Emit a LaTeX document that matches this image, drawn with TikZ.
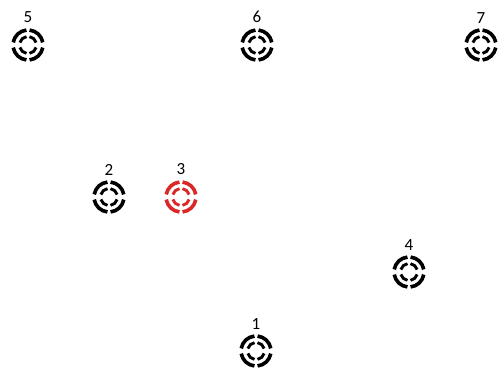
\documentclass[tikz,border=0pt]{standalone}
\usepackage{fontspec}
\setmainfont{Carlito}
\usetikzlibrary{positioning}
\definecolor{hitred}{RGB}{218,40,40}

\begin{document}
\begin{tikzpicture}[
    x=1pt, y=-1pt,
    target/.style={circle, minimum size=36pt, inner sep=0pt,
        path picture={
            \foreach \a/\s/\e in {0/10/84, 90/6/80, 180/10/84, 270/6/80} {
                \draw[#1, line width=3.6pt] ([shift={(\a+\s:15pt)}]path picture bounding box.center)
                    arc[start angle=\a+\s, end angle=\a+\e, radius=15pt];
            }
            \foreach \a/\s/\e in {0/17/80, 90/10/73, 180/17/80, 270/10/73} {
                \draw[#1, line width=2.9pt] ([shift={(\a+\s:8.5pt)}]path picture bounding box.center)
                    arc[start angle=\a+\s, end angle=\a+\e, radius=8.5pt];
            }
        }},
    tag/.style={inner sep=0pt, font=\fontsize{17}{20}\selectfont}
]
\useasboundingbox (0,0) rectangle (504,370);

\foreach \n/\x/\y/\c in {5/28/45/black, 6/257/45/black, 7/481/45/black,
                         2/109/197/black, 3/181/197/hitred,
                         4/409/272/black, 1/256/351/black} {
    \node[target=\c] (t\n) at (\x,\y) {};
    \node[tag, above=3.5pt of t\n] (l\n) {\n};
}

\end{tikzpicture}
\end{document}
